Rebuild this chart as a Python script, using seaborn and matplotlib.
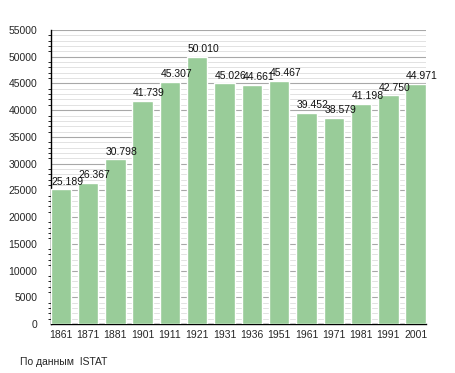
import matplotlib
matplotlib.use("Agg")
import matplotlib.pyplot as plt
import seaborn as sns
from matplotlib.ticker import MultipleLocator

# data
years = ["1861", "1871", "1881", "1901", "1911", "1921", "1931",
         "1936", "1951", "1961", "1971", "1981", "1991", "2001"]
population = [25189, 26367, 30798, 41739, 45307, 50010, 45026,
              44661, 45467, 39452, 38579, 41198, 42750, 44971]
source_note = "По данным  ISTAT"

sns.set_style("white")
plt.rcParams['font.family'] = ['Liberation Sans', 'DejaVu Sans']

fig = plt.figure(figsize=(4.55, 3.73), dpi=100)
ax = fig.add_axes([0.111, 0.1314, 0.825, 0.7882])

bar_w = 0.75
sns.barplot(x=years, y=population, color="#99cc99", saturation=1,
            width=bar_w, ax=ax, zorder=3)

# gridlines: major every 5000, minor every 1000
ax.set_ylim(0, 55000)
ax.set_xlim(-bar_w / 2, len(years) - 1 + bar_w / 2)
ax.yaxis.set_major_locator(MultipleLocator(5000))
ax.yaxis.set_minor_locator(MultipleLocator(1000))
ax.grid(axis="y", which="major", color="#a8a8a8", linewidth=0.8, zorder=0)
ax.grid(axis="y", which="minor", color="#dddddd", linewidth=0.6, zorder=0)
ax.set_axisbelow(True)

for s in ["top", "right"]:
    ax.spines[s].set_visible(False)
for s in ["left", "bottom"]:
    ax.spines[s].set_color("black")
    ax.spines[s].set_linewidth(1.0)

ax.tick_params(axis="y", which="major", length=3.5, width=0.8, color="black",
               labelsize=7.5, pad=6)
ax.tick_params(axis="y", which="minor", length=2, width=0.6, color="black", left=True)
ax.tick_params(axis="x", length=0, labelsize=7.5, pad=4)
ax.set_xlabel("")
ax.set_ylabel("")

# value labels, thousands with a dot
for i, v in enumerate(population):
    lab = f"{v:,}".replace(",", ".")
    ax.annotate(lab, (i - bar_w / 2, v), xytext=(0.5, 2), textcoords="offset points",
                ha="left", va="bottom", fontsize=7.5, color="#111111", zorder=4)

fig.text(0.045, 0.03, source_note, fontsize=7.5, ha="left", va="center")

fig.savefig("out.png", dpi=100)
